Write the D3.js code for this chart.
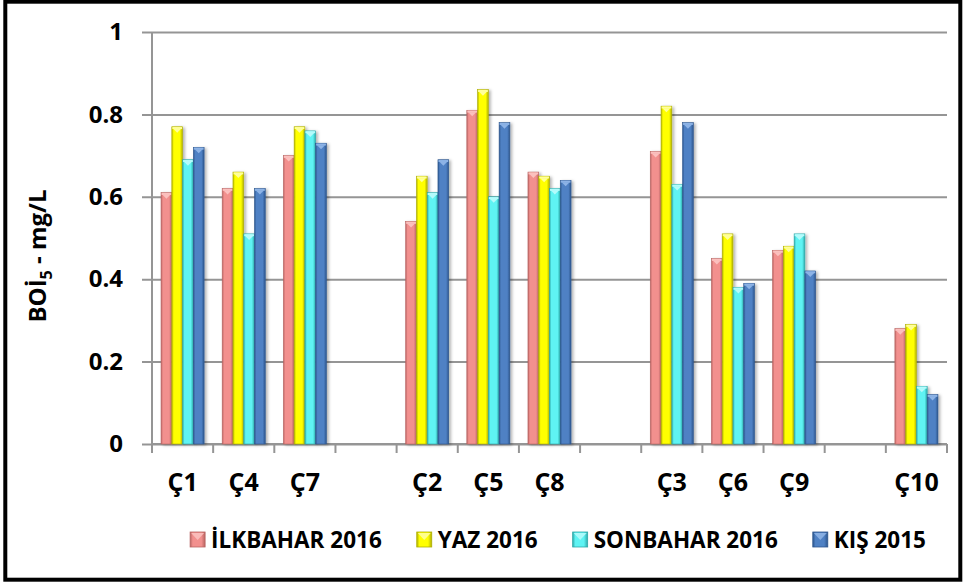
<!DOCTYPE html>
<html>
<head>
<meta charset="utf-8">
<script src="https://cdn.jsdelivr.net/npm/d3@7"></script>
<style>
  body { margin: 0; background: #fff; }
  svg text { font-family: "Open Sans", "DejaVu Sans", sans-serif; font-weight: bold; fill: #000; }
</style>
</head>
<body>
<div id="chart"></div>
<script>
// station labels, empty strings are the spacer slots between groups
const categories = ["Ç1", "Ç4", "Ç7", "", "Ç2", "Ç5", "Ç8", "", "Ç3", "Ç6", "Ç9", "", "Ç10"];
const seriesNames = ["İLKBAHAR 2016", "YAZ 2016", "SONBAHAR 2016", "KIŞ 2015"];

// BOİ5 values (mg/L)
const ilkbahar2016 = [0.61, 0.62, 0.70, null, 0.54, 0.81, 0.66, null, 0.71, 0.45, 0.47, null, 0.28];
const yaz2016      = [0.77, 0.66, 0.77, null, 0.65, 0.86, 0.65, null, 0.82, 0.51, 0.48, null, 0.29];
const sonbahar2016 = [0.69, 0.51, 0.76, null, 0.61, 0.60, 0.62, null, 0.63, 0.38, 0.51, null, 0.14];
const kis2015      = [0.72, 0.62, 0.73, null, 0.69, 0.78, 0.64, null, 0.78, 0.39, 0.42, null, 0.12];

const yTicks = [0, 0.2, 0.4, 0.6, 0.8, 1];

function initChart() {
    const width = 964;
    const height = 583;

    const seriesValues = [ilkbahar2016, yaz2016, sonbahar2016, kis2015];
    const colors = [
        { base: "#F2908E", light: "#FBC0BE", dark: "#B96462" },
        { base: "#FFFF00", light: "#FFFF9A", dark: "#B0B000" },
        { base: "#5EF3F3", light: "#B4FBFB", dark: "#2EA9A9" },
        { base: "#4F81C4", light: "#8DB3E6", dark: "#2D568E" }
    ];

    const svg = d3.select("#chart")
        .append("svg")
        .attr("width", width)
        .attr("height", height);

    const defs = svg.append("defs");

    // horizontal shading so the bars look a bit rounded like the excel bevel
    colors.forEach((c, i) => {
        const g = defs.append("linearGradient")
            .attr("id", "grad" + i)
            .attr("x1", "0%").attr("x2", "100%")
            .attr("y1", "0%").attr("y2", "0%");
        g.append("stop").attr("offset", "0%").attr("stop-color", c.dark);
        g.append("stop").attr("offset", "18%").attr("stop-color", c.base);
        g.append("stop").attr("offset", "75%").attr("stop-color", c.base);
        g.append("stop").attr("offset", "100%").attr("stop-color", c.dark);
    });

    const shadow = defs.append("filter").attr("id", "shadow")
        .attr("x", "-50%").attr("y", "-10%").attr("width", "200%").attr("height", "120%");
    shadow.append("feDropShadow")
        .attr("dx", 2).attr("dy", 1)
        .attr("stdDeviation", 1.5)
        .attr("flood-color", "#000")
        .attr("flood-opacity", 0.3);

    // plot area
    const x = d3.scaleBand()
        .domain(d3.range(categories.length))
        .range([152, 947])
        .padding(0);

    const xInner = d3.scaleBand()
        .domain(d3.range(seriesNames.length))
        .range([0, x.bandwidth()])
        .paddingInner(0)
        .paddingOuter(0.84);

    const y = d3.scaleLinear()
        .domain([0, 1])
        .range([444, 32]);

    // gridlines + y ticks
    const yAxis = d3.axisLeft(y)
        .tickValues(yTicks)
        .tickSize(-(947 - 142))
        .tickPadding(19)
        .tickFormat(d => d === 0 || d === 1 ? d3.format("d")(d) : d3.format(".1f")(d));

    const yG = svg.append("g")
        .attr("transform", "translate(142,0)")
        .call(yAxis);
    yG.select(".domain").remove();
    yG.selectAll(".tick line")
        .attr("stroke", "#959595")
        .attr("stroke-width", 2);
    yG.selectAll(".tick text")
        .style("font-size", "24px")
        .attr("x", -19);

    // vertical axis line
    svg.append("line")
        .attr("x1", 152).attr("x2", 152)
        .attr("y1", y(1)).attr("y2", y(0))
        .attr("stroke", "#959595")
        .attr("stroke-width", 2);

    // x axis with ticks between categories
    const xAxisG = svg.append("g");
    xAxisG.append("line")
        .attr("x1", 152).attr("x2", 947)
        .attr("y1", y(0)).attr("y2", y(0))
        .attr("stroke", "#959595")
        .attr("stroke-width", 2);
    xAxisG.selectAll(".xtick")
        .data(d3.range(categories.length + 1))
        .join("line")
        .attr("class", "xtick")
        .attr("x1", i => i < categories.length ? x(i) : x(categories.length - 1) + x.bandwidth())
        .attr("x2", i => i < categories.length ? x(i) : x(categories.length - 1) + x.bandwidth())
        .attr("y1", y(0))
        .attr("y2", y(0) + 9)
        .attr("stroke", "#959595")
        .attr("stroke-width", 2);
    xAxisG.selectAll(".xlabel")
        .data(categories)
        .join("text")
        .attr("class", "xlabel")
        .attr("x", (d, i) => x(i) + x.bandwidth() / 2)
        .attr("y", 491)
        .attr("text-anchor", "middle")
        .style("font-size", "25px")
        .text(d => d);

    // bars
    const barGroups = svg.append("g")
        .selectAll("g")
        .data(categories.map((c, i) => ({ cat: c, i: i })))
        .join("g")
        .attr("transform", d => `translate(${x(d.i)},0)`);

    barGroups.each(function (d) {
        const grp = d3.select(this);
        seriesValues.forEach((vals, s) => {
            const v = vals[d.i];
            if (v == null) return;
            const bx = xInner(s);
            const bw = xInner.bandwidth();
            const by = y(v);
            const bh = y(0) - y(v);
            grp.append("rect")
                .attr("x", bx)
                .attr("y", by)
                .attr("width", bw)
                .attr("height", bh)
                .attr("fill", `url(#grad${s})`)
                .attr("stroke", colors[s].dark)
                .attr("stroke-width", 0.6)
                .attr("filter", "url(#shadow)");
            // little top bevel
            grp.append("rect")
                .attr("x", bx + 0.5)
                .attr("y", by + 0.3)
                .attr("width", bw - 1)
                .attr("height", 2)
                .attr("fill", colors[s].light);
            grp.append("path")
                .attr("d", `M${bx + 1.5},${by + 2}L${bx + bw - 1.5},${by + 2}L${bx + bw / 2},${by + 6}Z`)
                .attr("fill", colors[s].light);
        });
    });

    // y axis title
    const yTitle = svg.append("text")
        .attr("transform", "translate(46,256) rotate(-90)")
        .attr("text-anchor", "middle")
        .style("font-size", "24px");
    yTitle.append("tspan").text("BOİ");
    yTitle.append("tspan").attr("dy", 6).style("font-size", "16px").text("5");
    yTitle.append("tspan").attr("dy", -6).text(" - mg/L");

    // legend
    const legend = svg.append("g");
    const items = legend.selectAll("g")
        .data(seriesNames)
        .join("g");
    items.append("rect")
        .attr("x", 0).attr("y", -8)
        .attr("width", 15).attr("height", 15)
        .attr("fill", (d, i) => `url(#grad${i})`)
        .attr("stroke", (d, i) => colors[i].dark)
        .attr("stroke-width", 0.8);
    items.append("path")
        .attr("d", "M1,-7L14,-7L7.5,0Z")
        .attr("fill", (d, i) => colors[i].light)
        .attr("opacity", 0.9);
    items.append("text")
        .attr("x", 21)
        .attr("y", 8)
        .style("font-size", "22.5px")
        .text(d => d);

    let offset = 0;
    const widths = [];
    items.each(function () {
        widths.push(21 + d3.select(this).select("text").node().getComputedTextLength());
    });
    const gap = 35;
    const total = d3.sum(widths) + gap * (widths.length - 1);
    const startX = 558 - total / 2;
    items.attr("transform", (d, i) => {
        const t = `translate(${startX + offset},540)`;
        offset += widths[i] + gap;
        return t;
    });

    // outer frame
    svg.append("rect")
        .attr("x", 5.3).attr("y", 1.7)
        .attr("width", 955).attr("height", 578)
        .attr("fill", "none")
        .attr("stroke", "#000")
        .attr("stroke-width", 4);
}

window.onload = initChart;
</script>
</body>
</html>
